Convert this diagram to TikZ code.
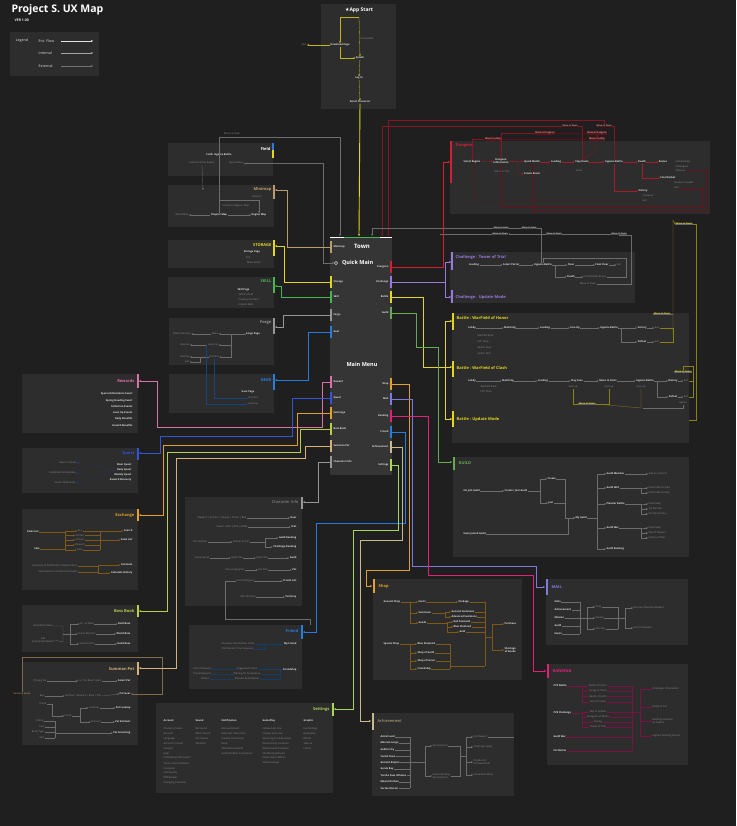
\documentclass[tikz,border=0pt]{standalone}
\usepackage{fontspec}
\setmainfont{Open Sans}
\newfontfamily\symfont{DejaVu Sans}
\usetikzlibrary{arrows.meta,positioning}

\definecolor{bgc}{RGB}{31,31,31}
\definecolor{panelc}{RGB}{45,45,45}
\definecolor{hubc}{RGB}{53,53,53}
\definecolor{tagred}{RGB}{88,22,28}
\definecolor{txtc}{RGB}{226,226,226}
\definecolor{subc}{RGB}{140,140,140}
\definecolor{lnc}{RGB}{108,108,108}
\definecolor{cyel}{RGB}{228,214,30}
\definecolor{cgrn}{RGB}{72,180,82}
\definecolor{cgld}{RGB}{104,170,84}
\definecolor{cblu}{RGB}{40,125,220}
\definecolor{cqst}{RGB}{50,85,220}
\definecolor{cpnk}{RGB}{222,112,168}
\definecolor{corg}{RGB}{228,160,40}
\definecolor{ctan}{RGB}{186,156,112}
\definecolor{cpet}{RGB}{216,176,122}
\definecolor{cach}{RGB}{200,186,140}
\definecolor{cboss}{RGB}{184,208,72}
\definecolor{cset}{RGB}{170,212,92}
\definecolor{cpur}{RGB}{152,122,222}
\definecolor{cmail}{RGB}{124,124,222}
\definecolor{cred}{RGB}{212,32,52}
\definecolor{cmag}{RGB}{226,32,122}
\definecolor{cgry}{RGB}{150,150,150}

\begin{document}
\begin{tikzpicture}[x=1pt,y=-1pt,>={Stealth[length=2pt,width=2pt]},
  ttl/.style={font=\bfseries\fontsize{4}{5}\selectfont,inner sep=0.5pt},
  it/.style={font=\bfseries\fontsize{2.5}{3}\selectfont,text=txtc,inner sep=0.4pt,align=center},
  sub/.style={font=\fontsize{2.5}{3}\selectfont,text=subc,inner sep=0.4pt,align=center},
  lgd/.style={font=\fontsize{3.6}{4}\selectfont,text=txtc,inner sep=0.5pt},
  rtag/.style={font=\fontsize{2.3}{2.6}\selectfont,text=txtc,fill=tagred,inner sep=0.6pt},
  gtag/.style={font=\fontsize{2.3}{2.6}\selectfont,text=txtc,fill=black!70,inner sep=0.6pt},
  ytag/.style={font=\bfseries\fontsize{2.3}{2.6}\selectfont,text=cyel,fill=black!60,inner sep=0.6pt},
  bar/.style={line width=1.6pt},
  flow/.style={->,line width=0.3pt,lnc},
  link/.style={line width=0.3pt,lnc},
  wire/.style={->,line width=0.7pt},
  hubl/.style={it,anchor=west},
  hubr/.style={it,anchor=east}]

  % Page and background
  \fill[bgc] (0,0) rectangle (736,826);
  \useasboundingbox (0,0) rectangle (736,826);

  % Title and legend
  \node[anchor=west,text=white,font=\bfseries\fontsize{10.5}{12}\selectfont] (title) at (8,10) {Project S. UX Map};
  \node[anchor=west,text=txtc,font=\bfseries\fontsize{3.5}{4}\selectfont] (ver) at (11,20) {VER 1.00};
  \fill[panelc] (10,32) rectangle (99,76);
  \node[lgd] (legend) at (22,41) {Legend};
  \node[lgd,anchor=west] (lgEnt) at (38,41) {Ent. Flow};
  \node[lgd,anchor=west] (lgInt) at (38,53) {Internal};
  \node[lgd,anchor=west] (lgExt) at (38,66) {External};
  \coordinate (lgEntS) at (61,41);  \coordinate (lgEntE) at (93,41);
  \coordinate (lgIntS) at (61,53);  \coordinate (lgIntE) at (93,53);
  \coordinate (lgExtS) at (61,66);  \coordinate (lgExtE) at (93,66);
  \draw[->,txtc,line width=0.9pt] (lgEntS) -- (lgEntE);
  \draw[->,white!65!black,line width=0.4pt] (lgIntS) -- (lgIntE);
  \draw[->,white!45!black,line width=0.4pt] (lgExtS) -- (lgExtE);

  % App start
  \fill[panelc] (321,4) rectangle (396,109);
  \node[text=white,font=\bfseries\fontsize{5}{6}\selectfont] (app) at (359,10) {{\symfont ★}App Start};
  \node[it] (aDown) at (340,45) {Download Page};
  \node[it] (aSplash) at (360,58) {Splash};
  \node[it] (aLog) at (359,78) {Log In};
  \node[it] (aSel) at (360,102) {Select Character};
  \node[sub] (aQuit) at (304,45) {Quit};
  \node[sub] (aNoUp) at (367,39) {No Update};
  \coordinate (aTop) at (359,17);
  \draw[flow,cyel!85!black] (aTop) -- (aSplash);
  \draw[flow,cyel!85!black] (aTop) -| (aDown);
  \draw[flow,cyel!85!black] (aDown) |- (aSplash);
  \draw[flow,cyel!85!black] (aDown) -- (aQuit);
  \draw[flow,cyel!85!black] (aSplash) -- (aLog);
  \draw[flow,cyel!85!black] (aLog) -- (aSel);

  % Town / main menu hub
  \fill[hubc] (330,237) rectangle (392,475);
  \draw[white,line width=0.9pt] (330,237) -- (392,237);
  \draw[cgrn,line width=0.9pt] (344,237) -- (380,237);
  \node[text=white,font=\bfseries\fontsize{6}{7}\selectfont] (town) at (362,246) {Town};
  \node[draw=white,circle,inner sep=0pt,minimum size=3.4pt,line width=0.4pt] (qdot) at (336,263) {};
  \node[text=white,font=\bfseries\fontsize{5.5}{6}\selectfont,anchor=west] (qmain) at (338.5,263) {Quick Main};
  \node[text=white,font=\bfseries\fontsize{5.5}{6}\selectfont] (mmenu) at (362,364) {Main Menu};
  \coordinate (hTop) at (359,236);
  \coordinate (hTopL) at (340,236);
  \coordinate (hTopR1) at (382,236);
  \coordinate (hTopR2) at (388,236);
  \coordinate (hTopR3) at (372,236);
  \draw[wire,cyel,line width=0.9pt] (aSel) -- (hTop);
  \foreach \nm/\lbl/\yy/\col in {hMin/Minimap/247/ctan,hSto/Storage/282/cyel,hSki/Skill/297/cgrn,hFor/Forge/315/cgry,hGea/Gear/332/cblu,hRew/Reward/382/cpnk,hQue/Quest/398/cqst,hExc/Exchange/413/corg,hBos/Boss Book/429/cboss,hPet/Summon Pet/446/cpet,hChr/Character Info/462/cgry}{
    \draw[bar,\col] (331,\yy-6) -- (331,\yy+6);
    \node[hubl] (\nm) at (333,\yy) {\lbl};
    \coordinate (\nm P) at (330,\yy);
  }
  \foreach \nm/\lbl/\yy/\col in {hDun/Dungeon/267/cred,hCha/Challenge/282/cpur,hBat/Battle/297/cyel,hGui/Guild/313/cgld,hSho/Shop/384/corg,hMai/Mail/399/cmail,hRan/Ranking/416/cmag,hFri/Friend/432/cblu,hAch/Achievement/447/cach,hSet/Settings/465/cset}{
    \draw[bar,\col] (391,\yy-6) -- (391,\yy+6);
    \node[hubr] (\nm) at (389,\yy) {\lbl};
    \coordinate (\nm P) at (392,\yy);
  }

  % Field
  \fill[panelc] (168,143) rectangle (273,176);
  \draw[bar,cblu] (273,143) -- (273,150);
  \draw[bar,cyel] (273,150) -- (273,158);
  \node[ttl,text=white,anchor=east] (field) at (271,149) {Field};
  \node[it] (fIn) at (219,155) {Field: Ingame Battle};
  \node[sub] (fReg) at (202,163) {Select Another Region};
  \node[sub] (fQuest) at (236,163) {Quest Move};
  \node[sub] (fMove) at (232,134) {Move to Town};

  % Minimap
  \fill[panelc] (168,185) rectangle (274,227);
  \draw[bar,ctan] (274,185) -- (274,199);
  \node[ttl,text=ctan,anchor=east] (minimap) at (272,189) {Minimap};
  \node[sub] (mWorld) at (182,215) {World Map};
  \node[it] (mChap) at (219,215) {Chapter Map};
  \node[it] (mReg) at (259,215) {Region Map};
  \node[sub] (mMove) at (257,197) {Move to};
  \node[sub] (mUnl) at (236,206) {Unlocked Regions Map};
  \coordinate (mapB) at (275,190);
  \draw[flow] (mChap) -- (mWorld);
  \draw[flow] (mChap) -- (mReg);
  \draw[flow] (mChap.north) -- (219,200) -| (mReg.north);
  \draw[flow] (mChap.north) -- (219,137) -- (340,137) -- (hTopL);
  \draw[flow] (fQuest.east) -- (323,163) |- (qdot.west);
  \draw[flow] (fReg.south) -- (203,190);

  % Storage
  \fill[panelc] (168,240) rectangle (274,268);
  \draw[bar,cyel] (274,240) -- (274,256);
  \node[ttl,text=cyel,anchor=east] (storage) at (272,245) {STORAGE};
  \node[it] (sPage) at (252,252) {Storage Page};
  \node[sub] (sSell) at (248,258) {Sell};
  \node[sub] (sRoom) at (254,263) {Make Room};
  \coordinate (stoB) at (275,246);

  % Skill
  \fill[panelc] (168,277) rectangle (274,308);
  \draw[bar,cgrn] (274,277) -- (274,293);
  \node[ttl,text=cgrn,anchor=east] (skill) at (272,281) {SKILL};
  \node[it,anchor=west] (kPage) at (237,290) {Skill Page};
  \node[sub,anchor=west] (kEnc) at (238,295) {Skill Enchant};
  \node[sub,anchor=west] (kProp) at (238,300) {Property Enchant};
  \node[sub,anchor=west] (kInc) at (238,305) {Include Skills};
  \coordinate (skiB) at (275,286);

  % Forge
  \fill[panelc] (169,318) rectangle (274,365);
  \draw[bar,cgry] (274,318) -- (274,334);
  \node[ttl,text=cgry,anchor=east] (forge) at (272,323) {Forge};
  \node[sub] (oRec) at (182,334) {Make Recovery};
  \node[sub] (oMake) at (215,334) {Make};
  \node[it] (oPage) at (253,334) {Forge Page};
  \node[sub] (oRes1) at (185,345) {Resolve};
  \node[sub] (oLv) at (213,345) {Level Up};
  \node[sub] (oRes2) at (185,357) {Resolve};
  \node[sub] (oEnc) at (214,357) {Enchant};
  \node[sub] (oFail) at (187,362) {Fail};
  \coordinate (forB) at (275,327);
  \draw[flow] (oPage) -- (oMake);
  \draw[flow] (oMake) -- (oRec);
  \draw[flow] (oPage.west) -- (231,334) |- (oLv.east);
  \draw[flow] (231,345) |- (oEnc.east);
  \draw[flow] (oLv) -- (oRes1);
  \draw[flow] (oEnc) -- (oRes2);
  \draw[flow] (oEnc.west) -- (200,357) |- (oFail.east);

  % Gear
  \fill[panelc] (169,374) rectangle (274,413);
  \draw[bar,cblu] (274,374) -- (274,390);
  \node[ttl,text=cblu,anchor=east] (gear) at (272,380) {GEAR};
  \node[it] (gPage) at (248,392) {Gear Page};
  \node[sub] (gEnc) at (253,398) {Enchant};
  \node[sub] (gLv) at (253,404) {Level Up};
  \coordinate (geaB) at (275,380);
  \draw[flow,cblu!55!black] (oEnc.south) |- (gEnc.west);
  \draw[flow,cblu!55!black] (oLv.west) -- (206,345) |- (gLv.west);

  % Rewards
  \fill[panelc] (22,374) rectangle (138,433);
  \draw[bar,cpnk] (138,374) -- (138,388);
  \node[ttl,text=cpnk,anchor=east] (rewards) at (135,381) {Rewards};
  \foreach \lbl [count=\i] in {Special Attendance Event,Spring Heading Event,Collection Events,Level Up Events,Daily Benefits,Growth Benefits}
    \node[it,anchor=east] (rw\i) at (133,388+6.2*\i) {\lbl};
  \coordinate (rewB) at (139,381);

  % Quest
  \fill[panelc] (22,448) rectangle (138,493);
  \draw[bar,cqst] (138,448) -- (138,460);
  \node[ttl,text=cqst,anchor=east] (quest) at (135,453) {Quest};
  \node[sub] (qMove) at (68,463) {Move to Quest};
  \node[sub] (qComp) at (62,473) {Complete Immediately};
  \node[sub] (qAtt) at (65,483) {Quest Attainment};
  \node[it,anchor=east] (qMain) at (132,465) {Main Quest};
  \node[it,anchor=east] (qDay) at (132,470) {Daily Quest};
  \node[it,anchor=east] (qWeek) at (132,475) {Weekly Quest};
  \node[it,anchor=east] (qRec) at (132,480) {Reward Recovery};
  \coordinate (queB) at (139,453);
  \foreach \m in {qMove,qComp,qAtt}
    \draw[<-,cqst!70!black,densely dotted,line width=0.3pt] (\m.east) -- (qDay.west);

  % Exchange
  \fill[panelc] (22,509) rectangle (138,590);
  \draw[bar,corg] (138,509) -- (138,521);
  \node[ttl,text=corg,anchor=east] (exchange) at (135,515) {Exchange};
  \node[it] (eSL) at (33,532) {Sales List};
  \node[it] (eSale) at (37,549) {Sale};
  \foreach \m/\lbl/\yy in {eAll/ALL/531,eArt/Artifact/535.5,eArm/Armour/540,eWep/Weapon/545,eGem/Gem/550}
    \node[sub] (\m) at (80,\yy) {\lbl};
  \node[it,anchor=east] (eSrch) at (133,531) {Search};
  \node[it,anchor=east] (eSL2) at (133,540) {Sales List};
  \node[sub] (eRec) at (55,566) {Recovery of Settlement Compensation};
  \node[sub] (eView) at (58,572) {View Historical Settlement Details};
  \node[it,anchor=east] (eCalc) at (133,565) {Calculate};
  \node[it,anchor=east] (eCalH) at (133,573) {Calculate History};
  \coordinate (eJ1) at (65,540);
  \coordinate (eJ2) at (100,540);
  \coordinate (eJ3) at (98,569);
  \coordinate (excB) at (139,515);
  \draw[link,corg!55!black] (eSL.east) -- (65,532) -- (65,549) -- (eSale.east);
  \foreach \m in {eAll,eArt,eArm,eWep,eGem}{
    \draw[flow,corg!55!black] (eJ1) |- (\m.west);
    \draw[link,corg!55!black] (\m.east) -- (\m.east -| eJ2);
  }
  \draw[link,corg!55!black] (100,531) -- (100,550);
  \draw[flow,corg!55!black] (eJ2) |- (eSrch.west);
  \draw[flow,corg!55!black] (eJ2) |- (eSL2.west);
  \draw[link,corg!55!black] (eRec.east) -| (eJ3) |- (eView.east);
  \draw[flow,corg!55!black] (eJ3) |- (eCalc.west);
  \draw[flow,corg!55!black] (eJ3) |- (eCalH.west);

  % Boss book
  \fill[panelc] (22,605) rectangle (138,652);
  \draw[bar,cboss] (138,605) -- (138,617);
  \node[ttl,text=cboss,anchor=east] (boss) at (135,611) {Boss Book};
  \node[sub] (bbMove) at (43,626) {Immediate Move};
  \node[sub] (bbGet) at (43,640) {Get\\Completed Reward};
  \node[sub] (bbM1) at (87,624) {Lv - Lv Rank};
  \node[sub] (bbM2) at (87,634) {Scene Monster};
  \node[sub] (bbM3) at (87,644) {Guild Faction};
  \node[it,anchor=east] (bbF) at (131,624) {Field Boss};
  \node[it,anchor=east] (bbW) at (131,634) {World Boss};
  \node[it,anchor=east] (bbG) at (131,644) {Guild Boss};
  \coordinate (bbJ) at (70,634);
  \coordinate (bosB) at (139,611);
  \draw[link] (bbMove.east) -- (63,626) -- (63,642) -- (bbGet.east);
  \draw[link] (63,634) -- (bbJ);
  \foreach \m/\r in {bbM1/bbF,bbM2/bbW,bbM3/bbG}{
    \draw[flow] (bbJ) |- (\m.west);
    \draw[flow] (\m) -- (\r);
  }

  % Summon pet
  \fill[panelc] (22,662) rectangle (138,745);
  \draw[bar,cpet] (138,662) -- (138,675);
  \node[ttl,text=cpet,anchor=east] (pet) at (135,669) {Summon Pet};
  \node[sub] (pChg) at (40,681) {Change Pet};
  \node[sub] (pLv) at (90,681) {Lv / Pet Basic Select};
  \node[it,anchor=east] (pSel) at (131,681) {Select Pet};
  \node[sub] (pBuy) at (42,696) {Buy};
  \node[sub] (pGrade) at (83,696) {Normal | Advance | Rare | SSS};
  \node[it,anchor=east] (pGear) at (131,694) {Pet Gear};
  \node[sub] (pEnr) at (43,704) {Enroll};
  \node[sub] (pEnr2) at (68,716) {Enroll};
  \node[sub] (pLvUp) at (94,708) {Level Up};
  \node[it,anchor=east] (pLvl) at (131,708) {Pet Levelup};
  \node[sub] (pEnc) at (96,722) {Enchant};
  \node[it,anchor=east] (pEnch) at (131,722) {Pet Enchant};
  \node[sub] (pDat) at (40,721) {Dating};
  \node[sub] (pFace) at (42,727) {Face};
  \node[sub] (pBody) at (38,732) {Body Type};
  \node[sub] (pSkin) at (42,738) {Skin};
  \node[it,anchor=east] (pGroom) at (131,733) {Pet Grooming};
  \node[font=\fontsize{2.3}{2.6}\selectfont,text=cpet,inner sep=0.5pt] (pGuide) at (22,694) {Summon Guide};
  \coordinate (pJ) at (80,716);
  \coordinate (pJ2) at (55,730);
  \coordinate (petB) at (139,668);
  \draw[flow] (pChg) -- (pLv);
  \draw[flow] (pLv) -- (pSel);
  \draw[flow] (pBuy) -- (pGrade);
  \draw[flow] (pGrade.east) -- (pGear.west);
  \draw[flow] (pEnr.east) -- (52,704) |- (pEnr2.west);
  \draw[link] (pEnr2.east) -- (pJ);
  \draw[flow] (pJ) |- (pLvUp.west);
  \draw[flow] (pJ) |- (pEnc.west);
  \draw[flow] (pLvUp) -- (pLvl);
  \draw[flow] (pEnc) -- (pEnch);
  \foreach \m in {pDat,pFace,pBody,pSkin}
    \draw[link] (\m.east) -- (\m.east -| pJ2);
  \draw[link] (55,721) -- (55,738);
  \draw[flow] (pJ2) |- (pGroom.west);
  \draw[flow,cpet!60!black] (pGuide.north) |- (162,657) |- (pGear.east);

  % Character info
  \fill[panelc] (185,497) rectangle (302,606);
  \draw[bar,cgry] (302,497) -- (302,509);
  \node[ttl,text=cgry,font=\fontsize{4}{5}\selectfont,anchor=east] (chr) at (299,502) {Character Info};
  \node[sub] (ci1) at (222,518) {Weapon | Armour | Gloves | Shoes | Belt};
  \node[sub] (ci2) at (232,527) {Power | ATK | DEF | MDEF};
  \node[sub] (ci3) at (200,542) {Total Ranker};
  \node[sub] (ci4) at (241,542) {Ranker Grade};
  \node[sub] (ci5) at (202,558) {Joined Guild};
  \node[sub] (ci6) at (237,558) {Guild Info};
  \node[sub] (ci7) at (262,558) {Guild Info};
  \node[sub] (ci8) at (235,570) {Encouraging Pet};
  \node[sub] (ci9) at (263,570) {Pet Info};
  \node[sub] (ci10) at (245,581) {Friend Request};
  \node[sub] (ci11) at (248,597) {Add Territory};
  \node[it,anchor=east] (cr1) at (297,518) {Gear};
  \node[it,anchor=east] (cr2) at (297,527) {Stat};
  \node[it,anchor=east] (cr3) at (297,538) {Guild Ranking};
  \node[it,anchor=east] (cr4) at (297,547) {Challenge Ranking};
  \node[it,anchor=east] (cr5) at (297,558) {Guild};
  \node[it,anchor=east] (cr6) at (297,570) {Pet};
  \node[it,anchor=east] (cr7) at (297,581) {Friend List};
  \node[it,anchor=east] (cr8) at (297,597) {Territory};
  \coordinate (chrB) at (303,502);
  \draw[flow] (ci1) -- (cr1);
  \draw[flow] (ci2) -- (cr2);
  \draw[flow] (ci3) -- (ci4);
  \draw[flow] (ci4.east) -- (265,542) |- (cr3.west);
  \draw[flow] (265,542) |- (cr4.west);
  \draw[flow] (ci5) -- (ci6);
  \draw[flow] (ci6) -- (ci7);
  \draw[flow] (ci7) -- (cr5);
  \draw[flow] (ci8) -- (ci9);
  \draw[flow] (ci9) -- (cr6);
  \draw[flow] (ci10) -- (cr7);
  \draw[flow] (ci11) -- (cr8);
  \draw[link] (ci10.west) -- (225,581) -- (225,619) -- (310,619) -- (310,625);

  % Friend
  \fill[panelc] (189,625) rectangle (302,689);
  \draw[bar,cblu] (302,625) -- (302,639);
  \node[ttl,text=cblu,anchor=east] (friend) at (299,631) {Friend};
  \node[sub] (frO) at (238,644) {Character Information Order};
  \node[sub] (frF) at (238,649) {Find Recent Time Sequence};
  \node[it,anchor=east] (frMy) at (297,644) {My Friend};
  \node[sub] (frR1) at (202,669) {Friend Request};
  \node[sub] (frR2) at (202,674) {Cancel Request};
  \node[sub] (frR3) at (205,679) {Refuse};
  \node[sub] (frS1) at (247,669) {Suggested Friend};
  \node[sub] (frS2) at (247,674) {Waiting for Acceptance};
  \node[sub] (frS3) at (247,679) {Request Redemption};
  \node[it,anchor=east] (frShip) at (297,670) {Friendship};
  \coordinate (friB) at (303,632);
  \coordinate (frX) at (280,0);
  \draw[flow,cblu!50!black] (frO) -- (frMy);
  \draw[link,cblu!50!black] (frF.east) -- (265,649) -- (265,644);
  \foreach \a/\b in {frR1/frS1,frR2/frS2,frR3/frS3}{
    \draw[<-,cblu!50!black,densely dotted,line width=0.3pt] (\a) -- (\b);
    \draw[link,cblu!50!black] (\b.east) -- (\b.east -| frX);
  }
  \draw[link,cblu!50!black] (280,669) -- (280,679);
  \draw[flow,cblu!50!black] (280,670) -- (frShip.west);

  % Settings
  \fill[panelc] (156,703) rectangle (333,793);
  \draw[bar,cset] (333,703) -- (333,716);
  \node[ttl,text=cset,anchor=east] (settings) at (330,709) {Settings};
  \foreach \nm/\lbl/\xx in {sAcc/Account/163,sSnd/Sound/195,sNot/Notification/221,sGame/GamePlay/262,sGra/Graphic/303}
    \node[it,anchor=west] (\nm) at (\xx,721) {\lbl};
  \foreach \lbl [count=\i] in {Character Name,Account,Language,Account Connect,Coupon,Help,Probability Information,Terms and Conditions,Customer,Community,Withdrawal,Changing Character}
    \node[sub,anchor=west] (sA\i) at (163,724+4.9*\i) {\lbl};
  \foreach \lbl [count=\i] in {BG Sound,Effect Sound,Env Sound,Vibration}
    \node[sub,anchor=west] (sS\i) at (195,724+4.9*\i) {\lbl};
  \foreach \lbl [count=\i] in {Announcement,Attention Other User,Friends Connection,Drop,Attendance Events,Guild Member Connection}
    \node[sub,anchor=west] (sN\i) at (221,724+4.9*\i) {\lbl};
  \foreach \lbl [count=\i] in {Follow Auto Use,Change Auto Use,Switching to Sleep Mode,Refuse Party Invitation,Refuse Guild Invitation,Shuffering Refused,Never Reject Effects,Show Damage}
    \node[sub,anchor=west] (sG\i) at (262,724+4.9*\i) {\lbl};
  \foreach \lbl [count=\i] in {Full Settings,Resolution,Effects,Texture,Frame}
    \node[sub,anchor=west] (sR\i) at (303,724+4.9*\i) {\lbl};
  \coordinate (setB) at (334,709);

  % Achievement
  \fill[panelc] (372,713) rectangle (514,796);
  \draw[bar,cach] (373,713) -- (373,730);
  \node[ttl,font=\fontsize{4}{5}\selectfont,text=cach,anchor=west] (ach) at (377,721) {Achievement};
  \foreach \lbl [count=\i] in {Astral Land,Merrain Gorge,Goblin City,Castle Town,Ancient Empire,Goruk Bay,Yorsha Pass Isthmus,Mount Dorban,Vortex Glacier}
    \node[it,anchor=west] (ac\i) at (380,730.5+6.4*\i) {\lbl};
  \node[sub,anchor=west] (acA) at (432,746) {Achievement};
  \node[sub,anchor=west,align=left] (acU) at (432,776) {Understanding\\Achievement};
  \node[sub,anchor=west] (acR1) at (473,737) {Get Reward};
  \node[sub,anchor=west] (acR2) at (473,747) {Challenge Apply};
  \node[sub,anchor=west,align=left] (acR3) at (473,762) {Detailed of\\Achievements};
  \node[sub,anchor=west] (acR4) at (473,775) {Immediate Move};
  \coordinate (acJ) at (410,762);
  \coordinate (acJ2) at (425,762);
  \coordinate (acJ3) at (466,756);
  \coordinate (achB) at (371,721);
  \foreach \i in {1,...,9}
    \draw[link] (ac\i.east) -- (ac\i.east -| acJ);
  \draw[link] (410,737) -- (410,788);
  \draw[link] (acJ) -- (acJ2);
  \draw[flow] (acJ2) |- (acA.west);
  \draw[flow] (acJ2) |- (acU.west);
  \draw[link] (acA.east) -- (460,746) -- (460,776) -- (acU.east);
  \draw[link] (460,756) -- (acJ3);
  \foreach \m in {acR1,acR2,acR3,acR4}
    \draw[flow] (acJ3) |- (\m.west);
  \draw[link] (acR1.east) -- (514,737);

  % Shop
  \fill[panelc] (373,579) rectangle (522,680);
  \draw[bar,corg] (374,579) -- (374,593);
  \node[ttl,text=corg,anchor=west] (shop) at (378,586) {Shop};
  \node[it,anchor=west] (hGen) at (383,602) {General Shop};
  \node[it,anchor=west] (hEv) at (418,602) {Event};
  \node[it,anchor=west] (hSum) at (418,613) {Summons};
  \node[it,anchor=west] (hGoo) at (418,623) {Goods};
  \node[it,anchor=west] (hPk) at (458,602) {Package};
  \node[it,anchor=west] (hGS) at (451,612) {General Summons};
  \node[it,anchor=west] (hAS) at (451,617) {Advanced Summons};
  \node[it,anchor=west] (hRD) at (453,622) {Red Diamond};
  \node[it,anchor=west] (hBD) at (453,627) {Blue Diamond};
  \node[it,anchor=west] (hGo) at (459,632) {Gold};
  \node[it,anchor=west] (hSpc) at (383,644) {Special Shop};
  \node[it,anchor=west] (hS1) at (417,644) {Blue Diamond};
  \node[it,anchor=west] (hS2) at (417,653) {Shop of Guild};
  \node[it,anchor=west] (hS3) at (417,661) {Shop of Honor};
  \node[it,anchor=west] (hS4) at (417,669) {Friendship};
  \node[it,anchor=west] (hPur) at (504,624) {Purchase};
  \node[it,anchor=west] (hShort) at (504,650) {Shortage\\of Goods};
  \coordinate (hoJ1) at (410,613);
  \coordinate (hoJ2) at (410,656);
  \coordinate (hoJ3) at (492,637);
  \coordinate (hoX1) at (485,0);
  \coordinate (hoX2) at (450,0);
  \coordinate (shoB) at (372,586);
  \draw[link,corg!55!black] (hGen.east) -- (hoJ1 |- hGen.east);
  \foreach \m in {hEv,hSum,hGoo} \draw[flow,corg!55!black] (hoJ1) |- (\m.west);
  \draw[link,corg!55!black] (hSpc.east) -- (hoJ2 |- hSpc.east);
  \foreach \m in {hS1,hS2,hS3,hS4} \draw[flow,corg!55!black] (hoJ2) |- (\m.west);
  \draw[flow,corg!55!black] (hEv) -- (hPk);
  \draw[flow,corg!55!black] (hSum.east) -- (445,613) |- (hGS.west);
  \draw[flow,corg!55!black] (445,613) |- (hAS.west);
  \draw[flow,corg!55!black] (hGoo.east) -- (447,623) |- (hRD.west);
  \draw[flow,corg!55!black] (447,623) |- (hBD.west);
  \draw[flow,corg!55!black] (447,623) |- (hGo.west);
  \foreach \m in {hPk,hGS,hAS,hRD,hBD,hGo} \draw[link,corg!55!black] (\m.east) -- (\m.east -| hoX1);
  \foreach \m in {hS1,hS2,hS3,hS4} \draw[link,corg!55!black] (\m.east) -- (\m.east -| hoX2);
  \draw[link,corg!55!black] (450,644) -- (450,669);
  \draw[link,corg!55!black] (450,666) -- (485,666);
  \draw[link,corg!55!black] (485,602) -- (485,666);
  \draw[link,corg!55!black] (485,637) -- (hoJ3);
  \draw[flow,corg!55!black] (hoJ3) |- (hPur.west);
  \draw[flow,corg!55!black] (hoJ3) |- (hShort.west);

  % Mail
  \fill[panelc] (546,579) rectangle (688,645);
  \draw[bar,cmail] (547,579) -- (547,595);
  \node[ttl,text=cmail,anchor=west] (mail) at (551,587) {MAIL};
  \foreach \lbl [count=\i] in {Note,Achievement,Mission,Guild,Event}
    \node[it,anchor=west] (ml\i) at (554,594+8*\i) {\lbl};
  \node[sub,anchor=west] (mlD) at (595,607) {Daily};
  \node[sub,anchor=west] (mlW) at (595,618) {Weekly};
  \node[sub,anchor=west] (mlM) at (595,629) {Monthly};
  \node[sub,anchor=west] (mlR) at (633,608) {Receive Individual Reward};
  \node[sub,anchor=west] (mlF) at (633,628) {Get Full Reward};
  \coordinate (mlJ) at (587,618);
  \coordinate (mlJ2) at (625,618);
  \coordinate (mlX1) at (580,0);
  \coordinate (mlX2) at (618,0);
  \coordinate (maiB) at (545,587);
  \foreach \i in {1,...,5} \draw[link] (ml\i.east) -- (ml\i.east -| mlX1);
  \draw[link] (580,602) -- (580,634);
  \draw[link] (580,618) -- (mlJ);
  \foreach \m in {mlD,mlW,mlM} {
    \draw[flow] (mlJ) |- (\m.west);
    \draw[link] (\m.east) -- (\m.east -| mlX2);
  }
  \draw[link] (618,607) -- (618,629);
  \draw[link] (618,618) -- (mlJ2);
  \draw[flow] (mlJ2) |- (mlR.west);
  \draw[flow] (mlJ2) |- (mlF.west);

  % Ranking
  \fill[panelc] (547,664) rectangle (688,765);
  \draw[bar,cmag] (548,664) -- (548,678);
  \node[ttl,text=cmag,anchor=west] (rank) at (552,671) {RANKING};
  \node[it,anchor=west] (rkP) at (553,686) {PVP Battle};
  \node[it,anchor=west] (rkE) at (553,713) {PVE Challenge};
  \node[it,anchor=west] (rkG) at (553,737) {Guild War};
  \node[it,anchor=west] (rkB) at (553,751) {Pet Battle};
  \foreach \lbl/\yy [count=\i] in {Battle of Honor/686,Gorge of Clash/691,Realm of Lyths/696.5,War of Castle/702,War of Soldier/712,Dungeon of Moon/717,Racing/722,Tower of Trial/727}
    \node[sub] (rm\i) at (598,\yy) {\lbl};
  \node[sub,anchor=west] (rr1) at (652,689) {All Ranger Information};
  \node[sub,anchor=west] (rr2) at (652,707) {Detail of Tier};
  \node[sub,anchor=west,align=left] (rr3) at (652,721) {Ranking Variation\\by Season};
  \node[sub,anchor=west] (rr4) at (652,736) {Highest Ranking Record};
  \coordinate (rkJ) at (640,712);
  \coordinate (rkX) at (632,0);
  \coordinate (ranB) at (546,671);
  \draw[flow,cmag!55!black] (rkP.east) -- (582,686) |- (rm4.west);
  \foreach \i in {1,2,3} \draw[flow,cmag!55!black] (582,686) |- (rm\i.west);
  \draw[flow,cmag!55!black] (rkE.east) -- (582,713) |- (rm8.west);
  \foreach \i in {5,6,7} \draw[flow,cmag!55!black] (582,713) |- (rm\i.west);
  \foreach \i in {1,...,8} \draw[link,cmag!55!black] (rm\i.east) -- (rm\i.east -| rkX);
  \draw[link,cmag!55!black] (rkG.east) -- (632,737);
  \draw[link,cmag!55!black] (rkB.east) -- (632,751);
  \draw[link,cmag!55!black] (632,686) -- (632,751);
  \draw[link,cmag!55!black] (632,712) -- (rkJ);
  \foreach \i in {1,...,4} \draw[flow,cmag!55!black] (rkJ) |- (rr\i.west);

  % Guild
  \fill[panelc] (453,457) rectangle (689,557);
  \draw[bar,cgld] (454,457) -- (454,470);
  \node[ttl,text=cgld,anchor=west] (guild) at (458,463) {GUILD};
  \node[it,anchor=west] (gNo) at (463,491) {No Join Guild};
  \node[it,anchor=west] (gCJ) at (504,491) {Create / Join Guild};
  \node[it,anchor=west] (gCre) at (547,479) {Create};
  \node[it,anchor=west] (gJoin) at (548,503) {Join};
  \node[it,anchor=west] (gMy) at (575,518) {My Guild};
  \node[it,anchor=west] (gHave) at (463,534) {Have Joined Guild};
  \foreach \m/\lbl/\yy in {gMem/Guild Member/474,gSk/Guild Skill/488,gPl/Plunder Battle/504,gWar/Guild War/528,gRank/Guild Ranking/549}
    \node[it,anchor=west] (\m) at (606,\yy) {\lbl};
  \foreach \m/\lbl/\yy in {gS1/Add as a Friend/474,gS2/Guild Skill Enchant/488,gS3/Guild Skill Levelup/493,gS4/Guild Map/504,gS5/Try Plunder/509,gS6/Plunder History/514,gS7/Guild Map/528,gS8/War of Flowers/533,gS9/History of War/538}
    \node[sub,anchor=west] (\m) at (648,\yy) {\lbl};
  \coordinate (gJ1) at (540,491);
  \coordinate (gJ2) at (597,518);
  \coordinate (gX) at (641,0);
  \coordinate (guiB) at (452,462);
  \draw[flow] (gNo) -- (gCJ);
  \draw[link] (gCJ.east) -- (gJ1);
  \draw[flow] (gJ1) |- (gCre.west);
  \draw[flow] (gJ1) |- (gJoin.west);
  \draw[link] (gCre.east) -- (565,479) -- (565,503) -- (gJoin.east);
  \draw[flow] (565,491) |- (gMy.west);
  \draw[flow] (gHave.east) -- (568,534) |- (gMy.west);
  \draw[link] (gMy.east) -- (gJ2);
  \foreach \m in {gMem,gSk,gPl,gWar,gRank} \draw[flow] (gJ2) |- (\m.west);
  \draw[flow] (gMem) -- (gS1);
  \foreach \a/\bb in {gSk/gS2,gSk/gS3,gPl/gS4,gPl/gS5,gPl/gS6,gWar/gS7,gWar/gS8,gWar/gS9}
    \draw[flow] (\a.east) -- (gX |- \a.east) |- (\bb.west);

  % Dungeon
  \fill[panelc] (450,141) rectangle (710,214);
  \draw[bar,cred] (451,141) -- (451,183);
  \node[ttl,text=cred,anchor=west] (dun) at (455,146) {Dungeon};
  \node[it] (dSel) at (472,162) {Select Region};
  \node[it] (dInfo) at (501,161) {Dungeon\\Information};
  \node[it] (dQuick) at (532,162) {Quick Match};
  \node[it] (dCreate) at (532,174) {Create Room};
  \node[it] (dLoad) at (556,162) {Loading};
  \node[it] (dStay) at (582,162) {Stay Room};
  \node[it] (dGame) at (614,162) {Ingame Battle};
  \node[it] (dDeath) at (642,162) {Death};
  \node[it] (dRev) at (663,162) {Revive};
  \node[sub,anchor=west] (dRev1) at (675,162) {Immediately};
  \node[sub,anchor=west] (dRev2) at (675,167) {Colleagues};
  \node[sub,anchor=west] (dRev3) at (675,171) {Observe};
  \node[it] (dFin) at (668,178) {Final Defeat};
  \node[sub,anchor=west] (dFin1) at (674,183) {Ready to Leader};
  \node[sub,anchor=west] (dFin2) at (674,188) {Exit};
  \node[it] (dVic) at (643,191) {Victory};
  \node[sub,anchor=west] (dVic1) at (642,196) {Continue};
  \node[sub,anchor=west] (dVic2) at (642,201) {Exit};
  \node[sub] (dMon) at (502,172) {Monster Info};
  \node[sub] (dInv) at (579,171) {Invite};
  \node[rtag] (dT1) at (570,126) {Move to Town};
  \node[rtag] (dT2) at (604,126) {Move to Town};
  \node[rtag] (dT3) at (545,133) {Move to Dungeon};
  \node[rtag] (dT4) at (597,133) {Move to Dungeon};
  \node[rtag] (dT5) at (493,139) {Move to Lobby};
  \node[rtag] (dT6) at (597,139) {Move to Lobby};
  \coordinate (dunB) at (450,162);
  \draw[flow,cred!80!black] (dSel) -- (dInfo);
  \draw[flow,cred!80!black] (dInfo) -- (dQuick);
  \draw[flow,cred!80!black] (dInfo.east) -- (518,162) |- (dCreate.west);
  \draw[flow,cred!80!black] (dQuick) -- (dLoad);
  \draw[flow,cred!80!black] (dLoad) -- (dStay);
  \draw[flow,cred!80!black] (dStay) -- (dGame);
  \draw[flow,cred!80!black] (dGame) -- (dDeath);
  \draw[flow,cred!80!black] (dDeath) -- (dRev);
  \draw[flow,cred!80!black] (dDeath.south) |- (dFin.west);
  \draw[flow,cred!80!black] (dGame.south) |- (dVic.west);
  \draw[flow,cred!50!black] (dVic2.west) -- (475,201) -- (dSel.south);
  \draw[flow,cred!50!black] (dFin2.east) -- (703,188) -- (703,207) -| (dInfo.south);
  \draw[flow,cred!50!black] (dRev3.east) -- (707,171) -- (707,210) -| (dQuick.south);
  \draw[link,cred!65!black] (dStay.north) |- (dT1.east);
  \draw[flow,cred!65!black] (dT1.west) -| (hTopR1);
  \draw[link,cred!65!black] (dGame.north) |- (dT2.east);
  \draw[flow,cred!65!black] (dT2.north) -- (604,120) -| (hTopR2);
  \draw[flow,cred!65!black] (dT3.west) -| (dInfo.north);
  \draw[link,cred!65!black] (dT4.south) -- (dT6.north);
  \draw[flow,cred!65!black] (dT5.west) -| (dSel.north);
  \draw[link,cred!65!black] (dT6.south) -- (597,150) -- (dStay.north);
  \draw[link,cred!45!black] (dT5.east) -- (dT6.west);
  \draw[link,cred!45!black] (dT3.east) -- (dT4.west);

  % Challenge
  \fill[panelc] (450,252) rectangle (635,303);
  \draw[bar,cpur] (452,252) -- (452,270);
  \draw[bar,cpur] (452,290) -- (452,303);
  \node[ttl,text=cpur,anchor=west] (cha1) at (455,257) {Challenge : Tower of Trial};
  \node[ttl,text=cpur,anchor=west] (cha2) at (455,297) {Challenge : Update Mode};
  \node[it] (cLoad) at (474,265) {Loading};
  \node[it] (cPort) at (511,265) {Select Portal};
  \node[it] (cGame) at (543,265) {Ingame Battle};
  \node[it] (cClr) at (571,265) {Clear};
  \node[it] (cFin) at (602,265) {Final Clear};
  \node[sub] (cExit) at (619,265) {Exit};
  \node[it] (cDeath) at (571,277) {Death};
  \node[sub] (cRev) at (595,277) {Immediately Revive};
  \node[sub] (cTown) at (588,284) {Move to Town};
  \node[gtag] (cG1) at (501,228) {Move to Gate};
  \node[gtag] (cG2) at (529,228) {Move to Gate};
  \node[gtag] (cT1) at (500,234) {Move to Town};
  \node[gtag] (cT2) at (554,234) {Move to Town};
  \node[gtag] (cT3) at (619,234) {Move to Town};
  \coordinate (chaJ) at (445,282);
  \coordinate (chaB1) at (451,262);
  \coordinate (chaB2) at (451,297);
  \draw[flow] (cLoad) -- (cPort);
  \draw[flow] (cPort) -- (cGame);
  \draw[flow] (cGame) -- (cClr);
  \draw[flow] (cClr) -- (cFin);
  \draw[flow] (cFin) -- (cExit);
  \draw[flow] (cGame.east) ++(3,0) |- (cDeath.west);
  \draw[flow] (cDeath) -- (cRev);
  \draw[link] (cRev.east) -- (626,277) -- (626,258) -| (cGame.north);
  \draw[link] (cTown.east) -- (631,284) |- (cT3.south);
  \draw[link] (cT3.west) -- (cT2.east);
  \draw[flow] (cT2.west) -- (cT1.east);
  \draw[link] (cT1.west) -- (440,234);
  \draw[link] (cGame.north) ++(-2,0) |- (cG2.east);
  \draw[link] (cG2.west) -- (cG1.east);
  \draw[flow] (cG1.west) -| (hTopR3);

  % Battle
  \fill[panelc] (452,313) rectangle (689,443);
  \draw[bar,cyel] (453,313) -- (453,330);
  \draw[bar,cyel] (453,361) -- (453,377);
  \draw[bar,cyel] (453,411) -- (453,427);
  \node[ttl,text=cyel,anchor=west] (bat1) at (456,318) {Battle : WarField of Honor};
  \node[ttl,text=cyel,anchor=west] (bat2) at (456,368) {Battle : WarField of Clash};
  \node[ttl,text=cyel,anchor=west] (bat3) at (456,419) {Battle : Update Mode};
  \foreach \m/\lbl/\xx in {bLob/Lobby/472,bMat/Matching/510,bLoad/Loading/545,bLine/Line Up/575,bGame/Ingame Battle/609,bVic/Victory/642}
    \node[it] (\m) at (\xx,328) {\lbl};
  \node[sub] (bEx1) at (657,328) {Exit};
  \node[it] (bDef) at (642,342) {Defeat};
  \node[sub] (bEx2) at (657,342) {Exit};
  \foreach \lbl [count=\i] in {Warfield Rank,PVP Shop,Switch Gear,Switch Skill}
    \node[sub,anchor=west] (bs\i) at (477,329+6.2*\i) {\lbl};
  \foreach \m/\lbl/\xx in {kLob/Lobby/472,kMat/Matching/508,kLoad/Loading/543,kStay/Stay Area/577,kMove/Move to Point/608,kGame/Ingame Battle/645,kHis/History/673}
    \node[it] (\m) at (\xx,381) {\lbl};
  \node[sub] (kEx1) at (686,381) {Exit};
  \node[it] (kDef) at (673,397) {Defeat};
  \node[sub] (kEx2) at (686,397) {Exit};
  \node[sub] (kRev) at (683,403) {Revive};
  \node[sub,anchor=west] (ks1) at (480,387) {Warfield Rank};
  \node[sub,anchor=west] (ks2) at (480,392) {PVP Shop};
  \node[sub] (kG1) at (573,387) {Give up};
  \node[sub] (kG2) at (609,387) {Give up};
  \node[sub] (kG3) at (641,387) {Give up};
  \node[ytag] (kT) at (587,404) {Move to Town};
  \node[ytag] (kT2) at (683,372) {Move to Town};
  \node[ytag] (bT) at (662,314) {Move to Town};
  \node[ytag] (yT0) at (684,224) {Move to Town};
  \coordinate (batJ) at (445,367);
  \coordinate (batB1) at (452,321);
  \coordinate (batB2) at (452,367);
  \coordinate (batB3) at (452,419);
  \foreach \a/\bb in {bLob/bMat,bMat/bLoad,bLoad/bLine,bLine/bGame,bGame/bVic,kLob/kMat,kMat/kLoad,kLoad/kStay,kStay/kMove,kMove/kGame,kGame/kHis}
    \draw[flow] (\a) -- (\bb);
  \draw[flow] (bVic) -- (bEx1);
  \draw[flow] (bDef) -- (bEx2);
  \draw[flow] (kHis) -- (kEx1);
  \draw[flow] (kDef) -- (kEx2);
  \draw[flow] (bGame.east) ++(3,0) |- (bDef.west);
  \draw[flow] (kGame.east) ++(3,0) |- (kDef.west);
  \draw[link,cyel!60!black] (bEx1.east) -- (673,328) -- (673,342) -- (bEx2.east);
  \draw[flow,cyel!60!black] (673,335) -- (673,220) -- (yT0.west);
  \draw[link,cyel!60!black] (yT0.east) -- (696,224) -- (696,420) -- (689,420);
  \draw[link,cyel!60!black] (kEx1.east) -- (693,381) -- (693,397) -- (kEx2.east);
  \draw[link,cyel!60!black] (kT2.north) -- (683,366) -- (693,366) -- (693,381);
  \draw[link,cyel!60!black] (kG1.south) |- (kT.west);
  \draw[link,cyel!60!black] (kG2.south) |- (kT.east);
  \draw[link,cyel!60!black] (kG3.south) -- (641,408) -- (kT.east);
  \draw[link] (kRev.south) -- (683,408) -- (643,408);
  \draw[link] (bT.east) -- (673,314);

  % Hub connectors, left side
  \draw[wire,ctan] (hMinP) -- (287,247) |- (mapB);
  \draw[wire,cyel] (hStoP) -- (284,282) |- (stoB);
  \draw[wire,cgrn] (hSkiP) -- (281,297) |- (skiB);
  \draw[wire,cgry] (hForP) -- (283,315) |- (forB);
  \draw[wire,cblu] (hGeaP) -- (308,332) |- (geaB);
  \draw[wire,cpnk] (hRewP) -- (322,382) -- (322,427) -- (157,427) |- (rewB);
  \draw[wire,cqst] (hQueP) -- (292,398) -- (292,436) -- (160,436) |- (queB);
  \draw[wire,corg] (hExcP) -- (297,413) -- (297,445) -- (163,445) |- (excB);
  \draw[wire,cboss] (hBosP) -- (300,429) -- (300,452) -- (167,452) |- (bosB);
  \draw[wire,cpet] (hPetP) -- (305,446) -- (305,458) -- (176,458) |- (petB);
  \draw[wire,cgry] (hChrP) -- (318,462) |- (chrB);

  % Hub connectors, right side
  \draw[wire,cred] (hDunP) -- (443,267) |- (dunB);
  \draw[line width=0.7pt,cpur] (hChaP) -- (chaJ);
  \draw[wire,cpur] (chaJ) |- (chaB1);
  \draw[wire,cpur] (chaJ) |- (chaB2);
  \draw[line width=0.7pt,cyel] (hBatP) -- (423,297) |- (batJ);
  \draw[wire,cyel] (batJ) |- (batB1);
  \draw[wire,cyel] (batJ) -- (batB2);
  \draw[wire,cyel] (batJ) |- (batB3);
  \draw[wire,cgld] (hGuiP) -- (416,313) -- (416,347) -- (438,347) |- (guiB);
  \draw[wire,corg] (hShoP) -- (409,384) -- (409,570) -- (366,570) |- (shoB);
  \draw[wire,cmail] (hMaiP) -- (412,399) -- (412,566) -- (536,566) |- (maiB);
  \draw[wire,cmag] (hRanP) -- (428,416) -- (428,575) -- (533,575) |- (ranB);
  \draw[wire,cblu] (hFriP) -- (405,432) -- (405,523) -- (316,523) |- (friB);
  \draw[wire,cach] (hAchP) -- (402,447) -- (402,540) -- (360,540) |- (achB);
  \draw[wire,cset] (hSetP) -- (398,465) -- (398,530) -- (353,530) |- (setB);
\end{tikzpicture}
\end{document}
